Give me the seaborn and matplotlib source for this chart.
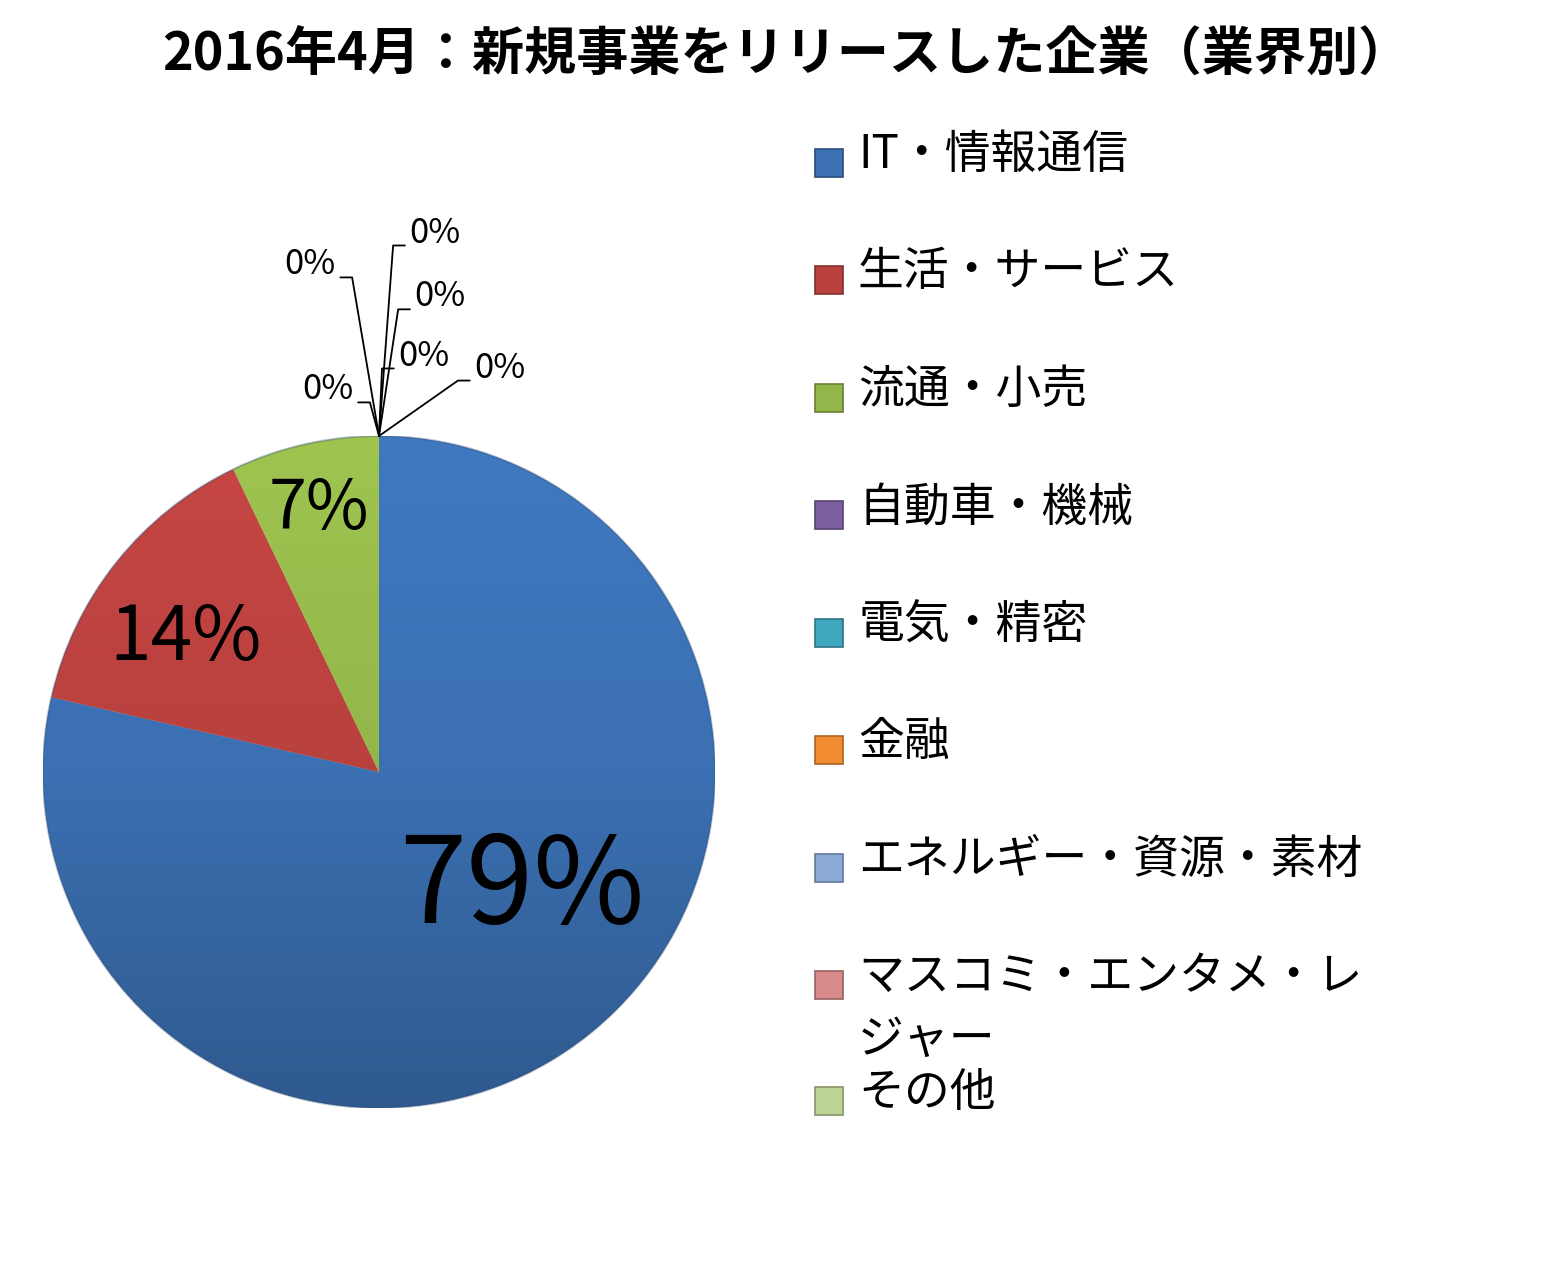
import textwrap
import numpy as np
import matplotlib
matplotlib.use('Agg')
import matplotlib.pyplot as plt
from matplotlib.colors import LinearSegmentedColormap, to_rgb
from matplotlib.patches import Rectangle
import seaborn as sns

# data
title = '2016年4月：新規事業をリリースした企業（業界別）'
industries = ['IT・情報通信', '生活・サービス', '流通・小売', '自動車・機械', '電気・精密',
              '金融', 'エネルギー・資源・素材', 'マスコミ・エンタメ・レジャー', 'その他']
companies = [11, 2, 1, 0, 0, 0, 0, 0, 0]
colors = ['#3B70B2', '#B8413E', '#93B64A', '#7C5FA0', '#3FA6C0',
          '#F28C32', '#8EAAD6', '#D88B8A', '#BFD596']

sns.set_theme(style='white')
plt.rcParams['font.family'] = ['Noto Sans CJK JP', 'DejaVu Sans']

W, H = 1555, 1261
fig = plt.figure(figsize=(W / 100, H / 100), dpi=100)
fig.patch.set_facecolor('white')

# pie axes: centre (379, 772) px, radius 336 px
cx, cy, R = 379, 772, 336
ax = fig.add_axes([(cx - R) / W, 1 - (cy + R) / H, 2 * R / W, 2 * R / H])
palette = sns.color_palette(colors)

wedges, _ = ax.pie(companies, colors=palette, startangle=90, counterclock=False,
                   radius=1, wedgeprops=dict(edgecolor=(1, 1, 1, 0.35), linewidth=1.5))

# vertical shading on each slice
grad = np.linspace(0, 1, 256).reshape(-1, 1)
for w, c in zip(wedges, palette):
    if w.theta2 - w.theta1 <= 0:
        continue
    r, g, b = to_rgb(c)
    top = tuple(min(1, v * 1.08) for v in (r, g, b))
    bot = tuple(v * 0.8 for v in (r, g, b))
    cmap = LinearSegmentedColormap.from_list('s', [top, c, bot])
    im = ax.imshow(grad, extent=(-1, 1, -1, 1), origin='upper', cmap=cmap,
                   aspect='auto', zorder=1.5)
    im.set_clip_path(w)

# faint outline round the pie
ax.add_patch(plt.Circle((0, 0), 1, fill=False, edgecolor=(0.2, 0.3, 0.45, 0.35),
                        lw=1.5, zorder=2))

ax.set_xlim(-1, 1)
ax.set_ylim(-1, 1)
ax.set_aspect('equal')
ax.axis('off')

total = sum(companies)
pct = [round(v / total * 100) for v in companies]

# labels for the non-zero slices
pct_r = [0.55, 0.70, 0.80]
pct_shift = [12, 4, 0]
pct_size = [87, 54, 49]
big = [i for i, v in enumerate(companies) if v > 0]
for k, i in enumerate(big):
    w = wedges[i]
    mid = np.deg2rad((w.theta1 + w.theta2) / 2 + pct_shift[k])
    ax.text(pct_r[k] * np.cos(mid), pct_r[k] * np.sin(mid), f'{pct[i]}%',
            ha='center', va='center', fontsize=pct_size[k], color='black', zorder=5)

# labels with leader lines for the empty slices (text centre, side of leader)
zero_pos = [(-0.205, 1.509, -1), (0.167, 1.604, 1), (0.182, 1.414, 1),
            (0.134, 1.238, 1), (-0.152, 1.137, -1), (0.36, 1.202, 1)]
zeros = [i for i, v in enumerate(companies) if v == 0]
hw = 0.085
for (tx, ty, side), i in zip(zero_pos, zeros):
    a = np.deg2rad(wedges[i].theta1)
    x0, y0 = np.cos(a), np.sin(a)
    ky = ty - 0.037
    near = tx - side * (hw + 0.005)
    knee = tx - side * (hw + 0.04)
    ax.plot([x0, knee, near], [y0, ky, ky], color='black', lw=1.3,
            clip_on=False, zorder=6)
    ax.text(tx, ty, f'{pct[i]}%', ha='center', va='center', fontsize=25,
            color='black', zorder=6)

fig.text(786 / W, 1 - 55 / H, title, ha='center', va='center',
         fontsize=37.5, fontweight='bold', color='black')

# legend on the right
legend_rows = [155, 272, 390, 507, 625, 742, 860, 977, 1093]
line_step = 63
sq = 28
for name, c, y in zip(industries, palette, legend_rows):
    r, g, b = to_rgb(c)
    fig.patches.append(Rectangle((815 / W, 1 - (y + 8 + sq / 2) / H), sq / W, sq / H,
                                 transform=fig.transFigure, facecolor=c,
                                 edgecolor=(r * 0.7, g * 0.7, b * 0.7), lw=1.2))
    for j, line in enumerate(textwrap.fill(name, 11).split('\n')):
        fig.text(858 / W, 1 - (y + j * line_step) / H, line, ha='left', va='center',
                 fontsize=33, color='black')

fig.savefig('out.png', dpi=100, facecolor='white')
